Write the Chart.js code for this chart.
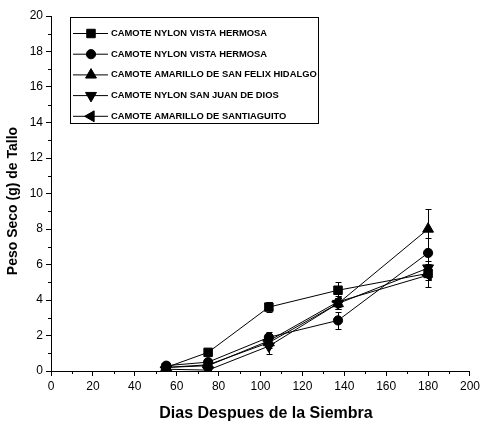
<!DOCTYPE html>
<html>
<head>
<meta charset="utf-8">
<script src="https://cdn.jsdelivr.net/npm/chart.js@4.4.1/dist/chart.umd.min.js"></script>
<style>
  html, body { margin: 0; padding: 0; background: #fff; }
  #wrap { width: 483px; height: 428px; position: relative; }
</style>
</head>
<body>
<div id="wrap"><canvas id="chart"></canvas></div>
<script>
// 日数（x軸）
const days = [55, 75, 104, 137, 180];

// 系列ラベル
const seriesLabels = [
    'CAMOTE NYLON VISTA HERMOSA',
    'CAMOTE NYLON VISTA HERMOSA',
    'CAMOTE AMARILLO DE SAN FELIX HIDALGO',
    'CAMOTE NYLON SAN JUAN DE DIOS',
    'CAMOTE AMARILLO DE SANTIAGUITO'
];

// 平均値
const nylonVista1 = [0.2, 1.05, 3.6, 4.55, 5.5];
const nylonVista2 = [0.3, 0.5, 1.9, 2.85, 6.65];
const amarilloFelix = [0.2, 0.35, 1.6, 3.8, 8.0];
const nylonSanJuan = [0.1, 0.05, 1.4, 3.8, 5.8];
const amarilloSantiaguito = [0.2, 0.3, 1.7, 3.9, 5.4];

// 誤差
const errNylonVista1 = [0.1, 0.1, 0.3, 0.45, 0.4];
const errNylonVista2 = [0.1, 0.1, 0.3, 0.5, 0.85];
const errAmarilloFelix = [0.1, 0.1, 0.3, 0.3, 1.1];
const errNylonSanJuan = [0.1, 0.1, 0.45, 0.3, 0.4];
const errAmarilloSantiaguito = [0.1, 0.1, 0.3, 0.3, 0.65];

// 目盛り
const xTicks = [0, 20, 40, 60, 80, 100, 120, 140, 160, 180, 200];
const yTicks = [0, 2, 4, 6, 8, 10, 12, 14, 16, 18, 20];

// 軸タイトル
const xTitle = 'Dias Despues de la Siembra';
const yTitle = 'Peso Seco (g) de Tallo';

const FONT = "'Liberation Sans', Arial, Helvetica, sans-serif";
Chart.defaults.font.family = FONT;
Chart.defaults.color = '#000';

const styles = [
    { pointStyle: 'rect', rotation: 0, radius: 6 },
    { pointStyle: 'circle', rotation: 0, radius: 4.6 },
    { pointStyle: 'triangle', rotation: 0, radius: 6.3 },
    { pointStyle: 'triangle', rotation: 180, radius: 6.3 },
    { pointStyle: 'triangle', rotation: 270, radius: 6.3 }
];

const values = [nylonVista1, nylonVista2, amarilloFelix, nylonSanJuan, amarilloSantiaguito];
const errors = [errNylonVista1, errNylonVista2, errAmarilloFelix, errNylonSanJuan, errAmarilloSantiaguito];

const datasets = values.map((vals, i) => ({
    label: seriesLabels[i],
    data: days.map((d, j) => ({ x: d, y: vals[j] })),
    errors: errors[i],
    borderColor: '#000',
    backgroundColor: '#000',
    borderWidth: 1,
    pointStyle: styles[i].pointStyle,
    rotation: styles[i].rotation,
    pointRadius: styles[i].radius,
    pointHoverRadius: styles[i].radius,
    pointBorderWidth: 1,
    tension: 0
}));

// 誤差棒
const errorBars = {
    id: 'errorBars',
    beforeDatasetsDraw(chart) {
        const { ctx, scales: { x, y } } = chart;
        ctx.save();
        ctx.strokeStyle = '#000';
        ctx.lineWidth = 1;
        chart.data.datasets.forEach(ds => {
            ds.data.forEach((p, j) => {
                const e = ds.errors[j];
                const px = Math.round(x.getPixelForValue(p.x)) + 0.5;
                const top = Math.round(y.getPixelForValue(p.y + e)) + 0.5;
                const bot = Math.round(y.getPixelForValue(Math.max(0, p.y - e))) + 0.5;
                ctx.beginPath();
                ctx.moveTo(px, top); ctx.lineTo(px, bot);
                ctx.moveTo(px - 3, top); ctx.lineTo(px + 3, top);
                ctx.moveTo(px - 3, bot); ctx.lineTo(px + 3, bot);
                ctx.stroke();
            });
        });
        ctx.restore();
    }
};

// 補助目盛りと軸タイトル
const minorTicks = {
    id: 'minorTicks',
    afterDraw(chart) {
        const { ctx, scales: { x, y } } = chart;
        ctx.save();
        ctx.strokeStyle = '#000';
        ctx.lineWidth = 1;
        ctx.beginPath();
        for (let v = 10; v < 200; v += 20) {
            const px = Math.round(x.getPixelForValue(v)) + 0.5;
            ctx.moveTo(px, y.bottom); ctx.lineTo(px, y.bottom + 3);
        }
        for (let v = 1; v < 20; v += 2) {
            const py = Math.round(y.getPixelForValue(v)) + 0.5;
            ctx.moveTo(x.left, py); ctx.lineTo(x.left - 3, py);
        }
        ctx.stroke();

        ctx.fillStyle = '#000';
        ctx.textAlign = 'center';
        ctx.textBaseline = 'middle';
        ctx.font = 'bold 16px ' + FONT;
        ctx.fillText(xTitle, 266, 414);
        ctx.translate(13, 201);
        ctx.rotate(-Math.PI / 2);
        ctx.font = 'bold 14px ' + FONT;
        ctx.fillText(yTitle, 0, 0);
        ctx.restore();
    }
};

// 凡例（枠付き、プロット内）
const boxLegend = {
    id: 'boxLegend',
    afterDraw(chart) {
        const ctx = chart.ctx;
        const box = { left: 70.5, top: 17.5, right: 318.5, bottom: 123.5 };
        ctx.save();
        ctx.fillStyle = '#fff';
        ctx.fillRect(box.left, box.top, box.right - box.left, box.bottom - box.top);
        ctx.strokeStyle = '#000';
        ctx.lineWidth = 1;
        ctx.strokeRect(box.left, box.top, box.right - box.left, box.bottom - box.top);
        ctx.font = 'bold 9.4px ' + FONT;
        ctx.textBaseline = 'middle';
        ctx.fillStyle = '#000';
        chart.data.datasets.forEach((ds, i) => {
            const cy = 33.5 + i * 20.7;
            ctx.beginPath();
            ctx.moveTo(73, cy); ctx.lineTo(108, cy);
            ctx.stroke();
            Chart.helpers.drawPoint(ctx, {
                pointStyle: ds.pointStyle,
                rotation: ds.rotation,
                radius: ds.pointRadius,
                borderWidth: 1
            }, 91, cy);
            ctx.fillStyle = '#000';
            ctx.fillText(ds.label, 111, cy);
        });
        ctx.restore();
    }
};

new Chart(document.getElementById('chart'), {
    type: 'line',
    data: { datasets },
    plugins: [errorBars, minorTicks, boxLegend],
    options: {
        responsive: true,
        maintainAspectRatio: false,
        animation: false,
        layout: { padding: { left: 0, top: 16, right: 12, bottom: 0 } },
        plugins: {
            legend: { display: false },
            tooltip: { enabled: false }
        },
        scales: {
            x: {
                type: 'linear',
                min: 0,
                max: 200,
                afterFit(scale) { scale.height = 57; },
                afterBuildTicks(scale) { scale.ticks = xTicks.map(v => ({ value: v })); },
                ticks: { font: { size: 12 }, color: '#000', maxRotation: 0, autoSkip: false, padding: 3 },
                grid: { drawOnChartArea: false, tickLength: 5, color: '#000' },
                border: { color: '#000', width: 1 }
            },
            y: {
                min: 0,
                max: 20,
                afterFit(scale) { scale.width = 51; },
                afterBuildTicks(scale) { scale.ticks = yTicks.map(v => ({ value: v })); },
                ticks: { font: { size: 12 }, color: '#000', autoSkip: false, padding: 3 },
                grid: { drawOnChartArea: false, tickLength: 5, color: '#000' },
                border: { color: '#000', width: 1 }
            }
        }
    }
});
</script>
</body>
</html>
